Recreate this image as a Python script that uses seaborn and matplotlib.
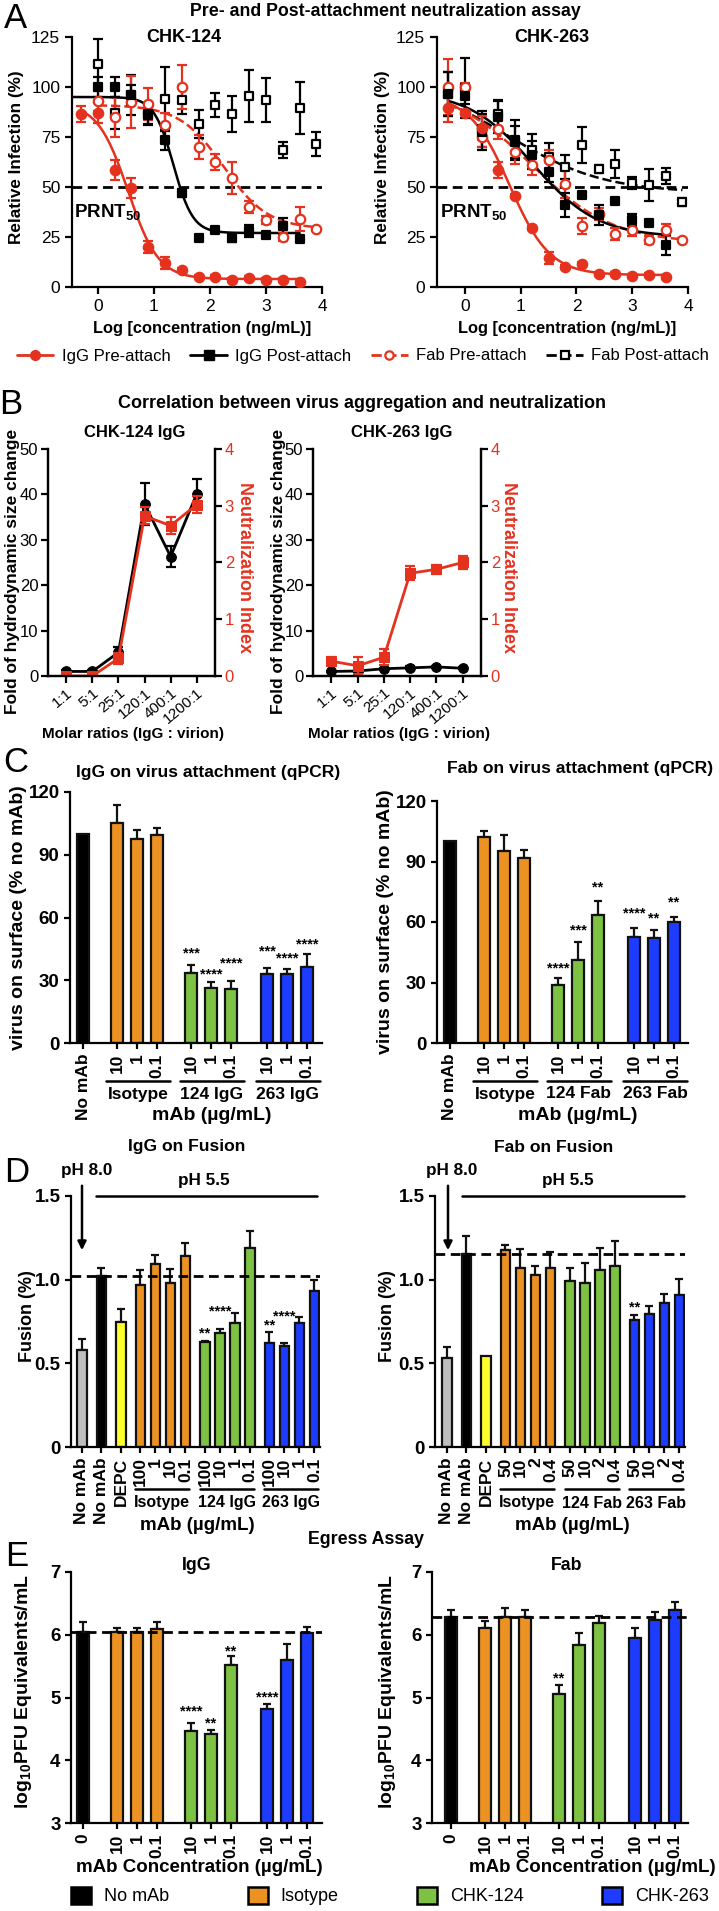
import numpy as np
import pandas as pd
import matplotlib
matplotlib.use("Agg")
import matplotlib.pyplot as plt
import matplotlib.transforms as mtransforms
from matplotlib.lines import Line2D
from matplotlib.patches import Patch, FancyArrowPatch
from matplotlib import font_manager
import seaborn as sns

nan = np.nan

# ---------- A: pre/post attachment neutralization ----------
log_conc = [-0.3, 0.0, 0.3, 0.6, 0.9, 1.2, 1.5, 1.8, 2.1, 2.4, 2.7, 3.0, 3.3, 3.6, 3.9]

igg_pre_124 = [86.5, 87, 58.7, 49.5, 20, 12, 8.3, 5, 5, 3.7, 4.5, 3.3, 3.3, 2.5, nan]
igg_pre_124_err = [4, 5, 5, 5, 3, 3, 1, 1, 1, 1, 1, 1, 1, 1, nan]
igg_post_124 = [nan, 100, 100, 96, 86.7, 73.7, 47, 24.7, 28.3, 24.7, 28, 26, 30.5, 24, nan]
igg_post_124_err = [nan, 5, 5, 5, 5, 5, 2, 1, 1, 2, 3, 1, 4, 1, nan]
fab_pre_124 = [nan, 93, 85, 92.5, 91.7, 81, 100, 70, 62.5, 54.5, 40, 33.7, 25, 34, 29]
fab_pre_124_err = [nan, 5, 10, 13, 8, 6, 11, 6, 4, 8, 3, 2, 2, 6, 1]
fab_post_124 = [nan, 111.7, 87, 96, 86, 94, 93.7, 81.7, 91, 86.7, 95.5, 93.7, 68.7, 89.7, 71.3]
fab_post_124_err = [nan, 12.5, 8, 10, 5, 16, 7, 7, 6, 9, 13, 11, 4, 13, 6]

igg_pre_263 = [89.7, 87, 79.5, 58.3, 45.3, 29.5, 14.5, 10, 11.7, 6.3, 6.3, 5.5, 5.8, 5, nan]
igg_pre_263_err = [7, 1, 6, 4, 1, 1, 3, 1, 1, 1, 1, 1, 1, 1, nan]
igg_post_263 = [96.3, 95.3, 77.5, 85, 72.5, 65.8, 57.5, 40.8, 46.2, 35.8, 42.8, 33.3, 32, 20.8, nan]
igg_post_263_err = [11, 4, 9, 8, 8, 7, 5, 6, 1, 5, 1, 3, 1, 5, nan]
fab_pre_263 = [100, 100, 75, 79, 67.5, 61, 63.7, 51.3, 30.3, 36.7, 26.7, 28.7, 23.7, 28.7, 23.7]
fab_pre_263_err = [14, 2, 5, 5, 6, 5, 5, 7, 4, 3, 3, 3, 2, 3, 1]
fab_post_263 = [96.7, 99.5, 79, 86.7, 73.7, 68.3, 65, 60, 70.8, 59.2, 61.7, 52, 50.8, 55.5, 42.5]
fab_post_263_err = [11, 15, 9, 7, 10, 8, 7, 6, 9, 2, 7, 3, 8, 4, 2]

# 4-parameter logistic fits: top, bottom, logEC50, hill
fit_igg_pre_124 = [92, 4, 0.54, 1.6]
fit_igg_post_124 = [95, 27, 1.35, 2.5]
fit_fab_pre_124 = [91, 29, 2.25, 1.1]
fit_igg_pre_263 = [96, 6, 0.8, 1.2]
fit_igg_post_263 = [98, 25, 1.22, 0.75]
fit_fab_pre_263 = [100, 22, 1.2, 0.6]
fit_fab_post_263 = [105, 47, 0.75, 0.5]

# ---------- B: aggregation vs neutralization ----------
ratios = ["1:1", "5:1", "25:1", "120:1", "400:1", "1200:1"]
size_124 = [1.0, 1.0, 5.2, 37.9, 26.3, 40.1]
size_124_err = [0.3, 0.3, 1.1, 4.6, 2.4, 3.3]
ni_124 = [0.0, 0.0, 0.31, 2.82, 2.65, 3.02]
ni_124_err = [0.03, 0.03, 0.1, 0.15, 0.15, 0.15]
size_263 = [1.0, 1.1, 1.6, 1.8, 2.0, 1.7]
size_263_err = [0.2, 0.2, 0.2, 0.3, 0.3, 0.2]
ni_263 = [0.26, 0.18, 0.33, 1.81, 1.88, 2.0]
ni_263_err = [0.07, 0.15, 0.14, 0.12, 0.08, 0.12]

# ---------- C: attachment (qPCR) ----------
att_groups = ["No mAb"] + ["Isotype"] * 3 + ["CHK-124"] * 3 + ["CHK-263"] * 3
att_ticks = ["No mAb", "10", "1", "0.1", "10", "1", "0.1", "10", "1", "0.1"]
att_igg = [100, 105, 97.5, 99.5, 33.5, 26.5, 26, 33, 33, 36.5]
att_igg_err = [0, 9, 4.5, 3.5, 4, 2.5, 3.5, 3, 2.5, 6]
att_igg_sig = ["", "", "", "", "***", "****", "****", "***", "****", "****"]
att_fab = [100, 102, 95, 91.5, 29, 41, 63.5, 52.5, 52, 60]
att_fab_err = [0, 3, 8, 4, 3, 9, 7, 4.5, 4, 2.5]
att_fab_sig = ["", "", "", "", "****", "***", "**", "****", "**", "**"]

# ---------- D: fusion ----------
fus_groups = ["pH 8.0", "No mAb", "DEPC"] + ["Isotype"] * 4 + ["CHK-124"] * 4 + ["CHK-263"] * 4
fus_igg_ticks = ["No mAb", "No mAb", "DEPC", "100", "1", "10", "0.1",
                 "100", "10", "1", "0.1", "100", "10", "1", "0.1"]
fus_fab_ticks = ["No mAb", "No mAb", "DEPC"] + ["50", "10", "2", "0.4"] * 3
fus_igg = [0.58, 1.022, 0.746, 0.966, 1.096, 0.98, 1.14, 0.626, 0.68, 0.742, 1.192,
           0.622, 0.602, 0.742, 0.932]
fus_igg_err = [0.065, 0.05, 0.08, 0.09, 0.05, 0.085, 0.08, 0.005, 0.026, 0.06, 0.1,
               0.068, 0.018, 0.034, 0.064]
fus_igg_sig = ["", "", "", "", "", "", "", "**", "****", "", "", "**", "****", "", ""]
fus_fab = [0.53, 1.152, 0.546, 1.18, 1.072, 1.026, 1.072, 0.992, 0.98, 1.056, 1.08,
           0.756, 0.796, 0.86, 0.91]
fus_fab_err = [0.07, 0.108, 0, 0.03, 0.114, 0.054, 0.094, 0.08, 0.122, 0.136, 0.152,
               0.03, 0.044, 0.056, 0.092]
fus_fab_sig = [""] * 11 + ["**", "", "", ""]

# ---------- E: egress ----------
egr_groups = att_groups
egr_ticks = ["0", "10", "1", "0.1", "10", "1", "0.1", "10", "1", "0.1"]
egr_igg = [6.04, 6.04, 6.05, 6.09, 4.47, 4.42, 5.51, 4.81, 5.59, 6.03]
egr_igg_err = [0.16, 0.07, 0.06, 0.12, 0.12, 0.06, 0.15, 0.08, 0.27, 0.09]
egr_igg_sig = ["", "", "", "", "****", "**", "**", "****", "", ""]
egr_fab = [6.29, 6.11, 6.29, 6.28, 5.06, 5.84, 6.19, 5.95, 6.24, 6.39]
egr_fab_err = [0.11, 0.11, 0.13, 0.11, 0.14, 0.19, 0.11, 0.16, 0.13, 0.13]
egr_fab_sig = ["", "", "", "", "**", "", "", "", "", ""]

# ---------- style / layout ----------
RED = "#E5321E"
palette = {"No mAb": "#000000", "Isotype": "#EB9222", "CHK-124": "#7DC242",
           "CHK-263": "#1E3CFF", "pH 8.0": "#BEBEBE", "DEPC": "#FFFF2E"}

# gap between the top of each error bar and its asterisks (layout only)
lift_att_igg = [0, 0, 0, 0, 5.1, 4.0, 8.3, 7.9, 4.8, 4.6]
lift_att_fab = [0, 0, 0, 0, 4.8, 5.8, 6.5, 7.1, 5.6, 7.3]
lift_fus_igg = [0] * 7 + [0.048, 0.103, 0, 0, 0.034, 0.158, 0, 0]
lift_fus_fab = [0] * 11 + [0.048, 0, 0, 0]
lift_egr_igg = [0, 0, 0, 0, 0.18, 0.10, 0.08, 0.11, 0, 0]
lift_egr_fab = [0, 0, 0, 0, 0.10, 0, 0, 0, 0, 0]

sns.set_style("ticks")
fams = {f.name for f in font_manager.fontManager.ttflist}
MAIN = "Liberation Sans" if "Liberation Sans" in fams else "DejaVu Sans"
NARROW = "Liberation Sans Narrow" if "Liberation Sans Narrow" in fams else MAIN
plt.rcParams["font.family"] = [MAIN, "DejaVu Sans"]
plt.rcParams.update({
    "axes.linewidth": 1.6, "axes.edgecolor": "black", "text.color": "black",
    "xtick.color": "black", "ytick.color": "black",
    "xtick.major.width": 1.6, "ytick.major.width": 1.6,
    "xtick.major.size": 4, "ytick.major.size": 4,
    "mathtext.fontset": "custom", "mathtext.rm": MAIN,
    "mathtext.bf": MAIN + ":bold", "mathtext.it": MAIN + ":italic",
})

W, H = 719, 1911
fig = plt.figure(figsize=(W / 100, H / 100), dpi=100)


def fx(x):
    return x / W


def fy(y):
    return 1 - y / H


def new_ax(b):
    return fig.add_axes([fx(b[0]), fy(b[3]), (b[2] - b[0]) / W, (b[3] - b[1]) / H])


def ftext(x, y, s, **kw):
    kw.setdefault("ha", "center")
    kw.setdefault("va", "center")
    fig.text(fx(x), fy(y), s, **kw)


def four_pl(x, top, bottom, c, h):
    return bottom + (top - bottom) / (1 + 10 ** ((x - c) * h))


# panel letters and section titles
for letter, (x, y) in zip("ABCDE", [(15, 18), (11, 405), (16, 762), (17, 1172), (17, 1557)]):
    ftext(x, y, letter, fontsize=25)
ftext(385, 11, "Pre- and Post-attachment neutralization assay", fontsize=12.8, fontweight="bold")
ftext(362, 403, "Correlation between virus aggregation and neutralization",
      fontsize=13, fontweight="bold", family=NARROW)
ftext(366, 1540, "Egress Assay", fontsize=12.8, fontweight="bold")

# ================= A =================
boxes_a = [(72, 37, 322, 287), (437, 37, 688, 287)]
xlims_a = [(-0.46, 4.0), (-0.5, 4.0)]
sets_a = [
    ("CHK-124", [
        (fab_post_124, fab_post_124_err, "black", "s", False, None, "--"),
        (fab_pre_124, fab_pre_124_err, RED, "o", False, fit_fab_pre_124, "--"),
        (igg_post_124, igg_post_124_err, "black", "s", True, fit_igg_post_124, "-"),
        (igg_pre_124, igg_pre_124_err, RED, "o", True, fit_igg_pre_124, "-"),
    ]),
    ("CHK-263", [
        (fab_post_263, fab_post_263_err, "black", "s", False, fit_fab_post_263, "--"),
        (fab_pre_263, fab_pre_263_err, RED, "o", False, fit_fab_pre_263, "--"),
        (igg_post_263, igg_post_263_err, "black", "s", True, fit_igg_post_263, "-"),
        (igg_pre_263, igg_pre_263_err, RED, "o", True, fit_igg_pre_263, "-"),
    ]),
]
label_x_a = [17, 383]
xlab_c_a = [202, 567]
title_x_a = [184, 552]
for b, xl, (title, series), lx, xc, tx in zip(boxes_a, xlims_a, sets_a, label_x_a, xlab_c_a, title_x_a):
    ax = new_ax(b)
    ax.axhline(50, color="black", lw=2, ls=(0, (3.5, 2)), zorder=1)
    x = np.array(log_conc)
    for vals, errs, col, mk, filled, fit, ls in series:
        y = np.array(vals, dtype=float)
        e = np.array(errs, dtype=float)
        m = ~np.isnan(y)
        if fit is not None:
            x0 = xl[0] if (col == "black" and ls == "-" and title == "CHK-124") else x[m].min()
            xs = np.linspace(x0, x[m].max(), 200)
            sns.lineplot(x=xs, y=four_pl(xs, *fit), color=col, lw=1.8, linestyle=ls, ax=ax, zorder=2)
        ax.errorbar(x[m], y[m], yerr=e[m], fmt="none", ecolor=col, elinewidth=1.6,
                    capsize=3.5, capthick=1.6, zorder=3)
        sns.scatterplot(x=x[m], y=y[m], marker=mk, s=46 if mk == "o" else 40,
                        color=col if filled else "white", edgecolor=col, linewidth=1.6,
                        ax=ax, zorder=4)
    ax.set_xlim(*xl)
    ax.set_ylim(0, 125)
    ax.set_yticks([0, 25, 50, 75, 100, 125])
    ax.set_xticks([0, 1, 2, 3, 4])
    ax.tick_params(labelsize=12.5, length=5)
    ax.set_xlabel("")
    ax.set_ylabel("")
    sns.despine(ax=ax)
    ax.text(0.01, 0.3, r"$\mathbf{PRNT_{50}}$", transform=ax.transAxes, fontsize=13.5, va="center")
    ftext(tx, 38, title, fontsize=13, fontweight="bold")
    ftext(lx, 157, "Relative Infection (%)", rotation=90, fontsize=12.3, fontweight="bold")
    ftext(xc, 328, "Log [concentration (ng/mL)]", fontsize=11.8, fontweight="bold")

leg_a = [
    Line2D([], [], color=RED, lw=2, marker="o", ms=7),
    Line2D([], [], color="black", lw=2, marker="s", ms=6.5),
    Line2D([], [], color=RED, lw=2, ls="--", marker="o", ms=6, mfc="white", mew=1.6),
    Line2D([], [], color="black", lw=2, ls="--", marker="s", ms=6, mfc="white", mew=1.6),
]
fig.legend(leg_a, ["IgG Pre-attach", "IgG Post-attach", "Fab Pre-attach", "Fab Post-attach"],
           loc="center", bbox_to_anchor=(fx(10), fy(368), fx(716) - fx(10), fy(344) - fy(368)),
           mode="expand", ncol=4, frameon=False, handlelength=2.2, handletextpad=0.5,
           borderaxespad=0, prop=font_manager.FontProperties(family=NARROW, size=12))

# ================= B =================
boxes_b = [(48, 449, 215, 676), (313, 449, 481, 676)]
sets_b = [("CHK-124 IgG", size_124, size_124_err, ni_124, ni_124_err, 135, 13, 244),
          ("CHK-263 IgG", size_263, size_263_err, ni_263, ni_263_err, 402, 278, 509)]
for b, (title, sz, sze, ni, nie, tx, lx, rx) in zip(boxes_b, sets_b):
    ax = new_ax(b)
    xi = np.arange(len(ratios))
    ax.errorbar(xi, sz, yerr=sze, fmt="none", ecolor="black", elinewidth=1.6, capsize=3.5, capthick=1.6)
    sns.lineplot(x=xi, y=sz, color="black", lw=2, marker="o", ms=7, mec="black", ax=ax)
    ax.set_ylim(0, 50)
    ax.set_yticks([0, 10, 20, 30, 40, 50])
    ax.set_xlim(-0.7, 5.7)
    ax.set_xticks(xi)
    ax.set_xticklabels(ratios, rotation=40, ha="right", va="top", rotation_mode="anchor",
                       family=NARROW, fontsize=11)
    for t in ax.get_yticklabels():
        t.set_family(NARROW)
        t.set_fontsize(12)
    ax.tick_params(length=5, pad=2)
    ax2 = ax.twinx()
    ax2.errorbar(xi, ni, yerr=nie, fmt="none", ecolor=RED, elinewidth=1.6, capsize=3.5, capthick=1.6)
    sns.lineplot(x=xi, y=ni, color=RED, lw=2, marker="s", ms=6.5, mec=RED, ax=ax2)
    ax2.set_ylim(0, 4)
    ax2.set_yticks([0, 1, 2, 3, 4])
    ax2.tick_params(axis="y", colors="black", labelcolor=RED, length=5, pad=2)
    for t in ax2.get_yticklabels():
        t.set_family(NARROW)
        t.set_fontsize(12)
    for a in (ax, ax2):
        a.spines["top"].set_visible(False)
        a.set_xlabel("")
        a.set_ylabel("")
    ax2.spines["right"].set_color("black")
    ftext(tx, 433, title, fontsize=12, fontweight="bold", family=NARROW)
    ftext(lx, 571, "Fold of hydrodynamic size change", rotation=90, fontsize=12.5, fontweight="bold")
    ftext(rx, 567, "Neutralization Index", rotation=270, fontsize=13, fontweight="bold", color=RED)
    ftext((b[0] + b[2]) / 2 + 2, 734, "Molar ratios (IgG : virion)", fontsize=11, fontweight="bold")


# ================= bar panels =================
def bar_panel(b, pos, xlim, vals, errs, groups, ticks, sig, ylim, yticks, width, lift, ref=None):
    ax = new_ax(b)
    df = pd.DataFrame({"pos": pos, "val": vals, "grp": groups})
    sns.barplot(data=df, x="pos", y="val", hue="grp", palette=palette, native_scale=True,
                dodge=False, width=width, saturation=1, edgecolor="#111111", linewidth=1.6,
                errorbar=None, legend=False, ax=ax, zorder=2)
    p = np.array(pos)
    v = np.array(vals, dtype=float)
    e = np.array(errs, dtype=float)
    m = e > 0
    ax.errorbar(p[m], v[m], yerr=[np.zeros(m.sum()), e[m]], fmt="none", ecolor="#111111",
                elinewidth=1.6, capsize=3, capthick=1.6, zorder=1)
    if ref is not None:
        ax.axhline(ref, color="black", lw=2, ls=(0, (3.5, 2)), zorder=3)
    for pi, vi, ei, s, lf in zip(p, v, e, sig, lift):
        if s:
            ax.text(pi, vi + ei + lf, s, ha="center", va="center", fontsize=10.5, fontweight="bold")
    ax.set_xlim(*xlim)
    ax.set_ylim(*ylim)
    ax.set_yticks(yticks)
    ax.set_xticks(pos)
    ax.set_xticklabels(ticks, rotation=90, fontweight="bold", fontsize=12.5)
    for t in ax.get_yticklabels():
        t.set_fontweight("bold")
        t.set_fontsize(13.5)
    ax.tick_params(length=4)
    ax.set_xlabel("")
    ax.set_ylabel("")
    sns.despine(ax=ax)
    return ax


def group_marks(ax, pos, spans, labels, y_line, y_lab, lpad, rpad, size):
    tr = mtransforms.blended_transform_factory(ax.transData, fig.transFigure)
    for (i0, i1), lab in zip(spans, labels):
        a, c = pos[i0] - lpad, pos[i1] + rpad
        ax.plot([a, c], [fy(y_line)] * 2, transform=tr, color="black", lw=1.8, clip_on=False)
        ax.text((a + c) / 2, fy(y_lab), lab, transform=tr, ha="center", va="center",
                fontsize=size, fontweight="bold")


pos_att = [0, 1.7, 2.7, 3.7, 5.4, 6.4, 7.4, 9.2, 10.2, 11.2]
pos_fus = [0, 1.3, 2.6, 3.9, 4.9, 5.9, 6.9, 8.2, 9.2, 10.2, 11.2, 12.5, 13.5, 14.5, 15.5]

# ---- C ----
axc1 = bar_panel((70, 792, 322, 1043), pos_att, (-0.65, 11.95), att_igg, att_igg_err, att_groups,
                 att_ticks, att_igg_sig, (0, 120), [0, 30, 60, 90, 120], 0.6, lift_att_igg)
axc2 = bar_panel((437, 801, 688, 1043), pos_att, (-0.65, 11.9), att_fab, att_fab_err, att_groups,
                 att_ticks, att_fab_sig, (0, 120), [0, 30, 60, 90, 120], 0.6, lift_att_fab)
group_marks(axc1, pos_att, [(1, 3), (4, 6), (7, 9)], ["Isotype", "124 IgG", "263 IgG"], 1081, 1094, 0.55, 0.65, 12.5)
group_marks(axc2, pos_att, [(1, 3), (4, 6), (7, 9)], ["Isotype", "124 Fab", "263 Fab"], 1081, 1094, 0.55, 0.65, 12.5)
ftext(208, 772, "IgG on virus attachment (qPCR)", fontsize=12.6, fontweight="bold")
ftext(580, 769, "Fab on virus attachment (qPCR)", fontsize=12.6, fontweight="bold")
ftext(19, 918, "virus on surface (% no mAb)", rotation=90, fontsize=14, fontweight="bold")
ftext(385, 922, "virus on surface (% no mAb)", rotation=90, fontsize=14, fontweight="bold")
ftext(212, 1116, "mAb (µg/mL)", fontsize=14, fontweight="bold")
ftext(578, 1116, "mAb (µg/mL)", fontsize=14, fontweight="bold")

# ---- D ----
axd1 = bar_panel((71, 1196, 320, 1447), pos_fus, (-0.73, 15.87), fus_igg, fus_igg_err, fus_groups,
                 fus_igg_ticks, fus_igg_sig, (0, 1.5), [0, 0.5, 1.0, 1.5], 0.62, lift_fus_igg,
                 ref=fus_igg[1])
axd2 = bar_panel((435, 1196, 685, 1447), pos_fus, (-0.8, 15.87), fus_fab, fus_fab_err, fus_groups,
                 fus_fab_ticks, fus_fab_sig, (0, 1.5), [0, 0.5, 1.0, 1.5], 0.62, lift_fus_fab,
                 ref=fus_fab[1])
for a in (axd1, axd2):
    a.set_yticklabels(["0", "0.5", "1.0", "1.5"], fontweight="bold", fontsize=13.5)
group_marks(axd1, pos_fus, [(3, 6), (7, 10), (11, 14)], ["Isotype", "124 IgG", "263 IgG"], 1489, 1503, 0.35, 0.25, 11.5)
group_marks(axd2, pos_fus, [(3, 6), (7, 10), (11, 14)], ["Isotype", "124 Fab", "263 Fab"], 1489, 1503, 0.35, 0.25, 11.5)
ftext(187, 1147, "IgG on Fusion", fontsize=12.6, fontweight="bold")
ftext(554, 1147, "Fab on Fusion", fontsize=12.6, fontweight="bold")
ftext(27, 1316, "Fusion (%)", rotation=90, fontsize=13, fontweight="bold")
ftext(388, 1316, "Fusion (%)", rotation=90, fontsize=13, fontweight="bold")
ftext(197, 1525, "mAb (µg/mL)", fontsize=13.5, fontweight="bold")
ftext(572, 1525, "mAb (µg/mL)", fontsize=13.5, fontweight="bold")
for ph8x, arrx, ph55x, l0, l1 in [(87, 82, 204, 96, 317), (452, 448, 568, 462, 684)]:
    ftext(ph8x, 1170, "pH 8.0", fontsize=12.3, fontweight="bold")
    ftext(ph55x, 1180, "pH 5.5", fontsize=12.3, fontweight="bold")
    fig.add_artist(Line2D([fx(l0), fx(l1)], [fy(1196)] * 2, color="black", lw=1.8))
    fig.add_artist(FancyArrowPatch(
        (fx(arrx), fy(1183)), (fx(arrx), fy(1253)), transform=fig.transFigure,
        arrowstyle="-|>,head_length=5,head_width=2.5", color="black", lw=1.8))

# ---- E ----
axe1 = bar_panel((71, 1572, 322, 1823), pos_att, (-0.6, 11.95), egr_igg, egr_igg_err, egr_groups,
                 egr_ticks, egr_igg_sig, (3, 7), [3, 4, 5, 6, 7], 0.6, lift_egr_igg, ref=egr_igg[0])
axe2 = bar_panel((432, 1572, 688, 1823), pos_att, (-0.95, 11.85), egr_fab, egr_fab_err, egr_groups,
                 egr_ticks, egr_fab_sig, (3, 7), [3, 4, 5, 6, 7], 0.6, lift_egr_fab, ref=egr_fab[0])
ftext(197, 1566, "IgG", fontsize=12.8, fontweight="bold")
ftext(567, 1566, "Fab", fontsize=12.8, fontweight="bold")
ftext(24, 1692, r"log$_{\mathbf{10}}$PFU Equivalents/mL", rotation=90, fontsize=14, fontweight="bold")
ftext(387, 1692, r"log$_{\mathbf{10}}$PFU Equivalents/mL", rotation=90, fontsize=14, fontweight="bold")
ftext(199, 1868, "mAb Concentration (µg/mL)", fontsize=13.5, fontweight="bold")
ftext(592, 1868, "mAb Concentration (µg/mL)", fontsize=13.5, fontweight="bold")

leg_e = [Patch(facecolor=palette[k], edgecolor="black", lw=1.8) for k in ["No mAb", "Isotype", "CHK-124", "CHK-263"]]
fig.legend(leg_e, ["No mAb", "Isotype", "CHK-124", "CHK-263"], loc="center",
           bbox_to_anchor=(fx(64), fy(1908), fx(716) - fx(64), fy(1884) - fy(1908)),
           mode="expand", ncol=4, frameon=False, handlelength=1.1, handleheight=1.1,
           handletextpad=0.7, borderaxespad=0,
           prop=font_manager.FontProperties(family=NARROW, size=13))

fig.savefig("out.png", dpi=100)
